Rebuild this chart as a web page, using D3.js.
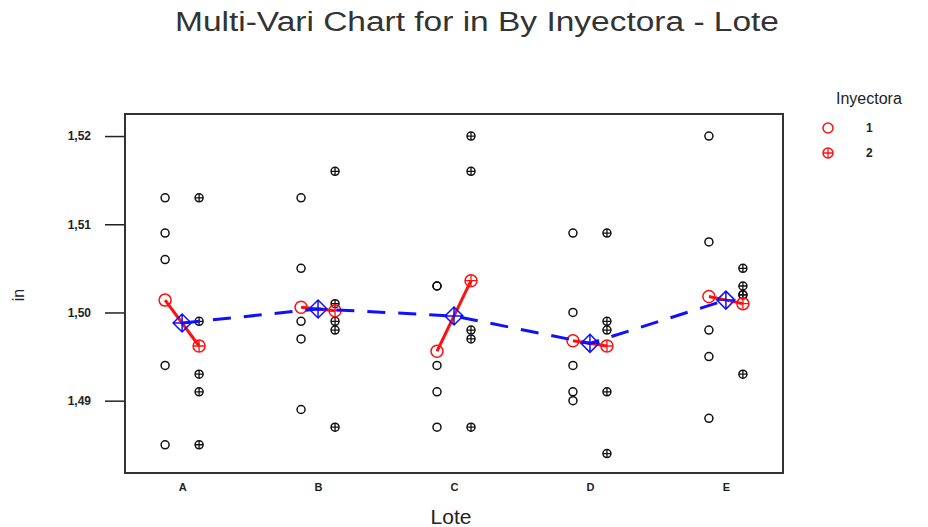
<!DOCTYPE html>
<html>
<head>
<meta charset="utf-8">
<script src="https://cdn.jsdelivr.net/npm/d3@7"></script>
<style>
  body { margin: 0; background: #fff; }
  svg text { font-family: "Liberation Sans", Arial, sans-serif; }
</style>
</head>
<body>
<div id="chart"></div>
<script>
// data
var lotes = ["A", "B", "C", "D", "E"];
var inyectoras = ["1", "2"];
var iny1 = [
  [1.513, 1.509, 1.506, 1.494, 1.485],
  [1.513, 1.505, 1.499, 1.497, 1.489],
  [1.503, 1.503, 1.494, 1.491, 1.487],
  [1.509, 1.500, 1.494, 1.491, 1.490],
  [1.520, 1.508, 1.498, 1.495, 1.488]
];
var iny2 = [
  [1.513, 1.499, 1.493, 1.491, 1.485],
  [1.516, 1.501, 1.499, 1.498, 1.487],
  [1.520, 1.516, 1.498, 1.497, 1.487],
  [1.509, 1.499, 1.498, 1.491, 1.484],
  [1.505, 1.503, 1.502, 1.502, 1.493]
];
var yTicks = [1.49, 1.50, 1.51, 1.52];

var width = 928, height = 527;
var pLeft = 125, pRight = 783, pTop = 114, pBottom = 473;

var svg = d3.select("#chart").append("svg")
  .attr("width", width)
  .attr("height", height);

var x = d3.scalePoint().domain(lotes).range([pLeft, pRight]).padding(0.42);
var xSub = d3.scalePoint().domain(inyectoras).range([-17, 17]);
var y = d3.scaleLinear().domain([1.4818, 1.5225]).range([pBottom, pTop]);

// title
svg.append("text")
  .attr("x", 477).attr("y", 31)
  .attr("text-anchor", "middle")
  .attr("textLength", 604)
  .attr("lengthAdjust", "spacingAndGlyphs")
  .style("font-size", "27px")
  .style("fill", "#333")
  .text("Multi-Vari Chart for in By Inyectora - Lote");

// axes
var yAxis = d3.axisLeft(y).tickValues(yTicks).tickSize(20).tickPadding(14)
  .tickFormat(function(d) { return d3.format(".2f")(d).replace(".", ","); });
var gy = svg.append("g").attr("transform", "translate(" + pLeft + ",0)").call(yAxis);
gy.select(".domain").remove();
gy.selectAll("line").attr("stroke", "#222").attr("stroke-width", 1.5);
gy.selectAll("text").style("font-size", "12px").style("font-weight", "bold")
  .style("font-family", "'Liberation Sans', Arial, sans-serif").attr("fill", "#222");

var xAxis = d3.axisBottom(x).tickSize(0).tickPadding(10);
var gx = svg.append("g").attr("transform", "translate(0," + pBottom + ")").call(xAxis);
gx.select(".domain").remove();
gx.selectAll("text").style("font-size", "11px").style("font-weight", "bold")
  .style("font-family", "'Liberation Sans', Arial, sans-serif").attr("fill", "#222");

// frame
svg.append("rect")
  .attr("x", pLeft).attr("y", pTop)
  .attr("width", pRight - pLeft).attr("height", pBottom - pTop)
  .attr("fill", "none").attr("stroke", "#333").attr("stroke-width", 2);

svg.append("text")
  .attr("x", 451).attr("y", 524)
  .attr("text-anchor", "middle")
  .style("font-size", "21px").style("fill", "#222")
  .text("Lote");

svg.append("text")
  .attr("transform", "translate(24,295)rotate(-90)")
  .attr("text-anchor", "middle")
  .style("font-size", "16px").style("fill", "#222")
  .text("in");

// marker helpers
function openCircle(g, cx, cy, r, color) {
  g.append("circle").attr("cx", cx).attr("cy", cy).attr("r", r)
    .attr("fill", "none").attr("stroke", color).attr("stroke-width", 1.5);
}
function crossCircle(g, cx, cy, r, color) {
  openCircle(g, cx, cy, r, color);
  g.append("path")
    .attr("d", "M" + (cx - r) + "," + cy + "H" + (cx + r) + "M" + cx + "," + (cy - r) + "V" + (cy + r))
    .attr("stroke", color).attr("stroke-width", 1.3);
}

// raw observations
var pts = svg.append("g");
lotes.forEach(function(l, i) {
  iny1[i].forEach(function(v) { openCircle(pts, x(l) + xSub("1"), y(v), 4, "#111"); });
  iny2[i].forEach(function(v) { crossCircle(pts, x(l) + xSub("2"), y(v), 4, "#111"); });
});

// cell means and lote means
var means = lotes.map(function(l, i) {
  return {
    lote: l,
    m1: d3.mean(iny1[i]),
    m2: d3.mean(iny2[i]),
    all: d3.mean(iny1[i].concat(iny2[i]))
  };
});

var red = "#ff1010", blue = "#1010ff";

svg.append("g").selectAll("line").data(means).enter().append("line")
  .attr("x1", function(d) { return x(d.lote) + xSub("1"); })
  .attr("y1", function(d) { return y(d.m1); })
  .attr("x2", function(d) { return x(d.lote) + xSub("2"); })
  .attr("y2", function(d) { return y(d.m2); })
  .attr("stroke", red).attr("stroke-width", 3);

var mk = svg.append("g");
means.forEach(function(d) {
  openCircle(mk, x(d.lote) + xSub("1"), y(d.m1), 6, red);
  crossCircle(mk, x(d.lote) + xSub("2"), y(d.m2), 6, red);
});

svg.append("path")
  .datum(means)
  .attr("fill", "none").attr("stroke", blue).attr("stroke-width", 3)
  .attr("stroke-dasharray", "18,13")
  .attr("d", d3.line().x(function(d) { return x(d.lote); }).y(function(d) { return y(d.all); }));

means.forEach(function(d) {
  var cx = x(d.lote), cy = y(d.all), s = 9;
  mk.append("path")
    .attr("d", "M" + cx + "," + (cy - s) + "L" + (cx + s) + "," + cy + "L" + cx + "," + (cy + s) + "L" + (cx - s) + "," + cy + "Z" +
      "M" + (cx - s) + "," + cy + "H" + (cx + s) + "M" + cx + "," + (cy - s) + "V" + (cy + s))
    .attr("fill", "none").attr("stroke", blue).attr("stroke-width", 1.5);
});

// legend
var lg = svg.append("g");
lg.append("text").attr("x", 836).attr("y", 104)
  .style("font-size", "16px").style("fill", "#222").text("Inyectora");
openCircle(lg, 828, 128, 5, red);
crossCircle(lg, 828, 153, 5, red);
lg.append("text").attr("x", 866).attr("y", 132).style("font-size", "12px").style("font-weight", "bold").style("fill", "#222").text("1");
lg.append("text").attr("x", 866).attr("y", 157).style("font-size", "12px").style("font-weight", "bold").style("fill", "#222").text("2");
</script>
</body>
</html>
